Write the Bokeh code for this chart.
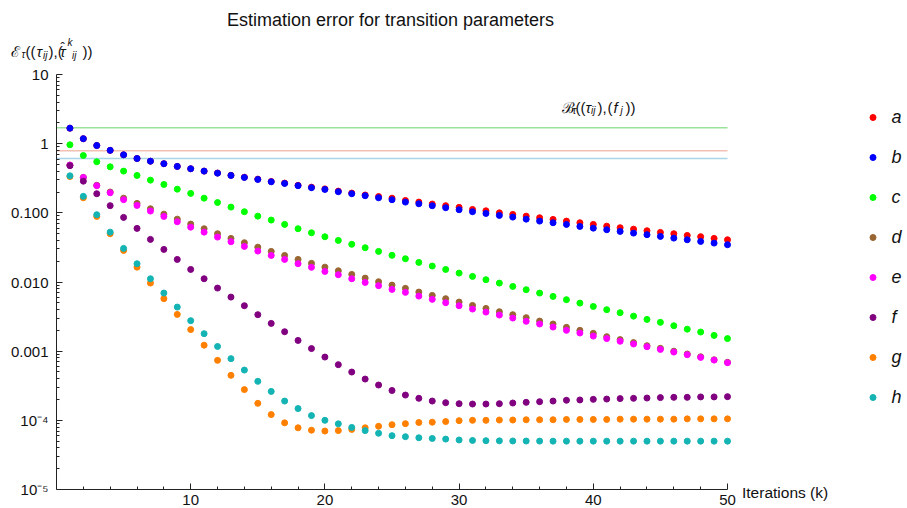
import json
from bokeh.plotting import figure
from bokeh.models import (Range1d, FixedTicker, CustomJSTickFormatter, Label,
                          Legend, LegendItem)
from bokeh.core.properties import value
from bokeh.embed import file_html
from bokeh.resources import INLINE

# ---------------- data ----------------
iterations = list(range(1, 51))

a = [1.675, 1.18, 0.94, 0.80, 0.69, 0.61, 0.558, 0.513, 0.469, 0.434,
     0.401, 0.376, 0.349, 0.327, 0.307, 0.284, 0.269, 0.250, 0.235, 0.222,
     0.206, 0.193, 0.181, 0.172, 0.163, 0.151, 0.143, 0.134, 0.127, 0.120,
     0.112, 0.107, 0.100, 0.0948, 0.0896, 0.0849, 0.0803, 0.0759, 0.0719, 0.0680,
     0.0642, 0.0609, 0.0581, 0.0551, 0.0521, 0.0499, 0.0471, 0.0452, 0.0427, 0.0408]
b = [1.675, 1.18, 0.94, 0.80, 0.69, 0.61, 0.558, 0.513, 0.469, 0.434,
     0.401, 0.375, 0.347, 0.325, 0.304, 0.281, 0.266, 0.247, 0.231, 0.218,
     0.202, 0.189, 0.177, 0.165, 0.1546, 0.1429, 0.1352, 0.1267, 0.1186, 0.1109,
     0.1038, 0.0980, 0.0917, 0.0867, 0.0811, 0.0759, 0.0719, 0.0680, 0.0636, 0.0601,
     0.0570, 0.0539, 0.0509, 0.0483, 0.0456, 0.0431, 0.0408, 0.0386, 0.0365, 0.0346]
c = [0.964, 0.674, 0.547, 0.463, 0.401, 0.347, 0.297, 0.257, 0.220, 0.191,
     0.163, 0.141, 0.121, 0.1037, 0.0896, 0.0785, 0.0680, 0.0589, 0.0515, 0.0451,
     0.0399, 0.0351, 0.0313, 0.0277, 0.0243, 0.0217, 0.0192, 0.0170, 0.0152, 0.01345,
     0.01205, 0.0108, 0.00964, 0.00863, 0.00774, 0.00692, 0.00619, 0.00555, 0.00495, 0.00443,
     0.00398, 0.00360, 0.00321, 0.00288, 0.00261, 0.00233, 0.00208, 0.00189, 0.00169, 0.00152]
d = [0.49, 0.325, 0.25, 0.20, 0.163, 0.137, 0.1146, 0.0957, 0.0811, 0.0687,
     0.0589, 0.0499, 0.0427, 0.0370, 0.0319, 0.0277, 0.0242, 0.0212, 0.0186, 0.0164,
     0.01455, 0.01288, 0.01138, 0.01009, 0.00902, 0.00809, 0.00715, 0.00640, 0.00574, 0.00513,
     0.00459, 0.00415, 0.00372, 0.00337, 0.00305, 0.00272, 0.00247, 0.00221, 0.00200, 0.00181,
     0.00162, 0.00147, 0.00133, 0.00120, 0.00110, 0.00100, 0.00091, 0.00083, 0.00075, 0.00069]
e = [0.49, 0.325, 0.247, 0.195, 0.155, 0.128, 0.106, 0.0887, 0.0743, 0.0621,
     0.0526, 0.0446, 0.0382, 0.0327, 0.0280, 0.0242, 0.0212, 0.0184, 0.0163, 0.0142,
     0.01273, 0.01114, 0.00986, 0.00885, 0.00782, 0.00708, 0.00625, 0.00561, 0.00502, 0.00454,
     0.00406, 0.00367, 0.00333, 0.00301, 0.00270, 0.00247, 0.00223, 0.00200, 0.00183, 0.00165,
     0.00152, 0.00139, 0.00127, 0.00116, 0.00106, 0.00097, 0.000889, 0.000813, 0.000743, 0.000682]
f = [0.48, 0.287, 0.189, 0.127, 0.0859, 0.0596, 0.0413, 0.0296, 0.0212, 0.0152,
     0.01114, 0.00817, 0.00605, 0.00454, 0.00337, 0.00252, 0.00191, 0.00143, 0.00109, 0.000822,
     0.000638, 0.000499, 0.000395, 0.000324, 0.000270, 0.000232, 0.000208, 0.000190, 0.000180, 0.000174,
     0.000172, 0.000172, 0.000174, 0.000178, 0.000182, 0.000186, 0.000190, 0.000195, 0.000197, 0.000201,
     0.000203, 0.000206, 0.000208, 0.000210, 0.000213, 0.000215, 0.000215, 0.000218, 0.000218, 0.000220]
g = [0.335, 0.165, 0.0887, 0.0499, 0.0286, 0.0164, 0.00964, 0.00574, 0.00340, 0.00205,
     0.00122, 0.000736, 0.000447, 0.000278, 0.000176, 0.000121, 0.0000920, 0.0000780, 0.0000720, 0.0000700,
     0.0000710, 0.0000740, 0.0000780, 0.0000820, 0.0000865, 0.0000895, 0.0000930, 0.0000940, 0.0000960, 0.0000990,
     0.000100, 0.000100, 0.000101, 0.000101, 0.000102, 0.000102, 0.000102, 0.000103, 0.000103, 0.000103,
     0.000103, 0.000104, 0.000104, 0.000104, 0.000104, 0.000104, 0.000105, 0.000105, 0.000105, 0.000105]
h = [0.343, 0.173, 0.094, 0.0526, 0.0306, 0.01837, 0.01114, 0.00692, 0.00434, 0.00276,
     0.00179, 0.00117, 0.00078, 0.000533, 0.000366, 0.000262, 0.000190, 0.000148, 0.000117, 0.000100,
     0.0000890, 0.0000790, 0.0000710, 0.0000650, 0.0000600, 0.0000580, 0.0000560, 0.0000547, 0.0000535, 0.0000520,
     0.0000512, 0.0000508, 0.0000505, 0.0000503, 0.0000502, 0.0000501, 0.0000500, 0.0000500, 0.0000500, 0.0000500,
     0.0000500, 0.0000500, 0.0000500, 0.0000500, 0.0000500, 0.0000500, 0.0000500, 0.0000500, 0.0000500, 0.0000500]

series_names = ["a", "b", "c", "d", "e", "f", "g", "h"]
series_values = [a, b, c, d, e, f, g, h]
series_colors = ["#ff0000", "#0000ff", "#00ff00", "#996633", "#ff00ff", "#800080", "#ff8000", "#14b4b4"]

bounds = [1.70, 0.79, 0.61]
bound_colors = ["#9be39b", "#f3c0b4", "#a9d6e6"]

x_domain = (0, 50)
y_domain = (1e-5, 10)
xticks = [10, 20, 30, 40, 50]
xminor = [2, 4, 6, 8, 12, 14, 16, 18, 22, 24, 26, 28, 32, 34, 36, 38, 42, 44, 46, 48]
yticks = [1e-5, 1e-4, 1e-3, 1e-2, 1e-1, 1, 10]
ytick_labels = {"-5": "10\u207b\u2075", "-4": "10\u207b\u2074", "-3": "0.001", "-2": "0.010",
                "-1": "0.100", "0": "1", "1": "10"}
yminor = [m * 10.0 ** ex for ex in range(-5, 1) for m in range(2, 10)]

# ---------------- layout (page pixels) ----------------
W, H = 907, 508
PL, PR, PT, PB = 56, 727, 74, 489     # plotting box: axis corner / ends
FONT = "Liberation Sans"

ppu = (PR - PL) / (x_domain[1] - x_domain[0])
ppd = (PB - PT) / 6.0                  # pixels per decade
x_start = x_domain[0] - PL / ppu
x_end = x_domain[0] + (W - PL) / ppu
y_top = 10 ** (1 + PT / ppd)
y_bot = 10 ** (-5 - (H - PB) / ppd)

p = figure(frame_width=W, frame_height=H, min_border=0, title=None,
           x_range=Range1d(x_start, x_end), y_range=Range1d(y_bot, y_top), y_axis_type="log",
           output_backend="svg", toolbar_location=None)
p.outline_line_color = None
p.xgrid.visible = False
p.ygrid.visible = False
p.background_fill_color = "white"
p.border_fill_color = "white"

for ax in (p.xaxis[0], p.yaxis[0]):
    ax.axis_line_color = "#222222"
    ax.major_tick_line_color = "#222222"
    ax.minor_tick_line_color = "#222222"
    ax.major_tick_in = 6
    ax.major_tick_out = 0
    ax.minor_tick_in = 3
    ax.minor_tick_out = 0
    ax.major_label_text_font = FONT
    ax.major_label_text_font_size = "15px"
    ax.major_label_text_color = "#111111"

p.xaxis.fixed_location = y_domain[0]
p.xaxis.bounds = x_domain
p.xaxis.ticker = FixedTicker(ticks=xticks, minor_ticks=xminor)
p.xaxis.major_label_standoff = 5
p.yaxis.fixed_location = x_domain[0]
p.yaxis.bounds = y_domain
p.yaxis.ticker = FixedTicker(ticks=yticks, minor_ticks=yminor)
p.yaxis.major_label_standoff = 8
p.yaxis.formatter = CustomJSTickFormatter(
    code="const m = %s; return m[String(Math.round(Math.log10(tick)))];" % json.dumps(ytick_labels))

# bound lines across the axis domain
p.segment(x0=[x_domain[0]] * len(bounds), x1=[x_domain[1]] * len(bounds), y0=bounds, y1=bounds,
          line_color=bound_colors, line_width=1.6, level="underlay")

items = []
for name, vals, col in zip(series_names, series_values, series_colors):
    r = p.scatter(iterations, vals, size=6, color=col, line_color=col)
    items.append(LegendItem(label=value(name), renderers=[r]))

LEG_H = 8 * 22 + 7 * 18
legend = Legend(items=items, location=(864.5, H - (106.3 + LEG_H)), padding=0, margin=0,
                spacing=18, glyph_width=15, glyph_height=22, label_height=22,
                label_standoff=12, border_line_alpha=0, background_fill_alpha=0,
                label_text_font=FONT, label_text_font_style="italic",
                label_text_font_size="18px", label_text_color="#111111")
p.add_layout(legend)


def txt(s, px, base, size, style="normal", align="left"):
    p.add_layout(Label(x=px, y=H - base, x_units="screen", y_units="screen", text=s,
                       text_font=FONT, text_font_size=f"{size}px", text_font_style=style,
                       text_align=align, text_baseline="alphabetic", text_color="#111111"))


# title
txt("Estimation error for transition parameters", 390, 19, 18, align="center")
# x-axis label
txt("Iterations (k)", 741.5, 492, 15.5)

# y-axis label  E_tau((tau_ij),(tau-hat^k_ij))
txt("\u2130", 10, 51, 15)
txt("\u03c4", 21, 54, 10, "italic")
txt("((", 25, 51, 15)
txt("\u03c4", 36, 51, 15, "italic")
txt("ij", 42.5, 54.5, 10, "italic")
txt("),(", 48, 51, 15)
txt("\u03c4", 59.5, 51, 15, "italic")
txt("\u02c6", 60, 47, 13)
txt("k", 67, 42, 10, "italic")
txt("ij", 71.5, 55, 10, "italic")
txt("))", 82, 51, 15)

# bound label  B_tau((tau_ij), (f_j))
txt("\u212c", 561, 107, 15)
txt("\u03c4", 572, 110, 10, "italic")
txt("((", 575, 107, 15)
txt("\u03c4", 585, 107, 15, "italic")
txt("ij", 590.5, 110, 10, "italic")
txt("),", 597, 107, 15)
txt("(", 607, 107, 15)
txt("f", 613, 107, 15, "italic")
txt("j", 620, 110, 10, "italic")
txt("))", 625, 107, 15)

open("out.html", "w").write(file_html(p, INLINE))
